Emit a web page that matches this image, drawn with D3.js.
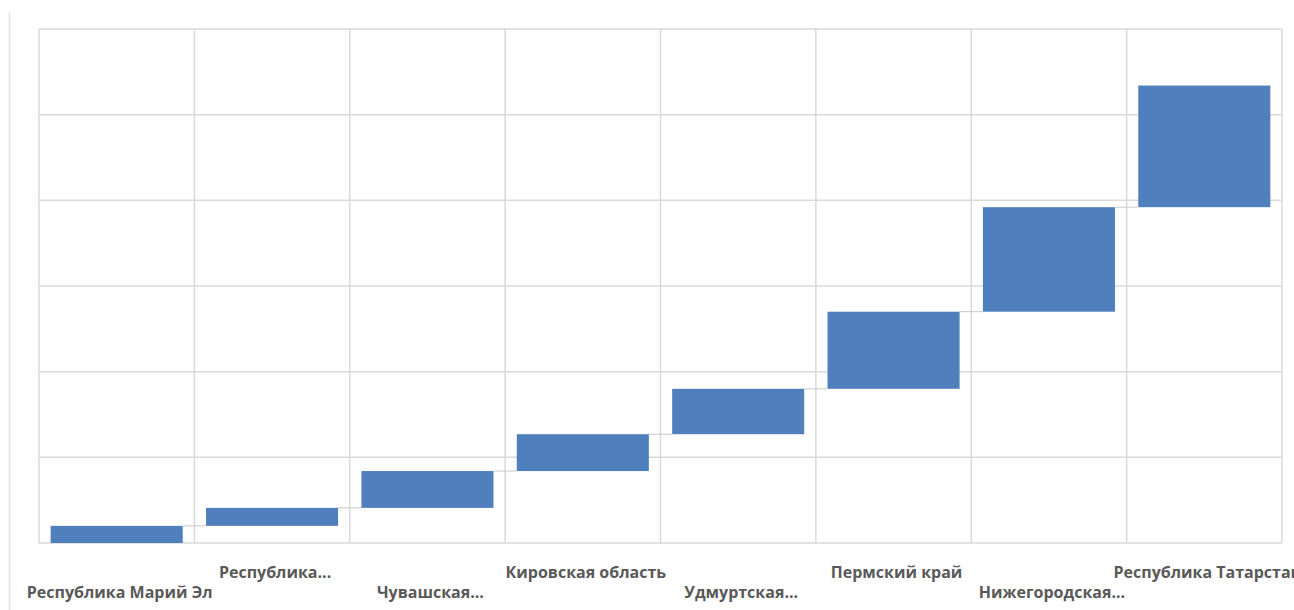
<!DOCTYPE html>
<html>
<head>
<meta charset="utf-8">
<script src="https://cdn.jsdelivr.net/npm/d3@7"></script>
<style>
  html, body { margin: 0; padding: 0; background: #ffffff; }
  svg { display: block; }
</style>
</head>
<body>
<svg id="chart" width="1294" height="610"></svg>
<script>
// Categories (regions)
const categories = [
  "Республика Марий Эл",
  "Республика...",
  "Чувашская...",
  "Кировская область",
  "Удмуртская...",
  "Пермский край",
  "Нижегородская...",
  "Республика Татарстан"
];
// Increment of each step of the waterfall (in gridline units)
const increments = [0.20, 0.21, 0.43, 0.43, 0.53, 0.90, 1.22, 1.42];
// Gridline values
const gridValues = [0, 1, 2, 3, 4, 5, 6];

const svg = d3.select("#chart");
const W = 1294, H = 610;
const plot = { left: 39, right: 1282, top: 29, bottom: 543 };

// cumulative waterfall
let run = 0;
const steps = increments.map((v, i) => {
  const start = run;
  run += v;
  return { name: categories[i], start: start, end: run };
});

const x = d3.scaleBand()
  .domain(categories)
  .range([plot.left, plot.right])
  .paddingInner(0.15)
  .paddingOuter(0.075);

const y = d3.scaleLinear()
  .domain([0, 6])
  .range([plot.bottom, plot.top]);

// left border line of the chart area
svg.append("line")
  .attr("x1", 9.5).attr("x2", 9.5)
  .attr("y1", 12).attr("y2", H)
  .attr("stroke", "#e3e3e3").attr("stroke-width", 1.5);

// horizontal gridlines
svg.append("g")
  .selectAll("line")
  .data(gridValues)
  .join("line")
  .attr("x1", plot.left).attr("x2", plot.right)
  .attr("y1", d => y(d)).attr("y2", d => y(d))
  .attr("stroke", "#d9d9d9").attr("stroke-width", 1.5);

// vertical gridlines at category boundaries
const bounds = d3.range(categories.length + 1).map(i => plot.left + i * (plot.right - plot.left) / categories.length);
svg.append("g")
  .selectAll("line")
  .data(bounds)
  .join("line")
  .attr("x1", d => d).attr("x2", d => d)
  .attr("y1", plot.top).attr("y2", plot.bottom)
  .attr("stroke", "#d9d9d9").attr("stroke-width", 1.5);

// connector lines
svg.append("g")
  .selectAll("line")
  .data(steps.slice(0, -1))
  .join("line")
  .attr("x1", d => x(d.name) + x.bandwidth())
  .attr("x2", (d, i) => x(categories[i + 1]))
  .attr("y1", d => y(d.end)).attr("y2", d => y(d.end))
  .attr("stroke", "#c8c8c8").attr("stroke-width", 1);

// bars
svg.append("g")
  .selectAll("rect")
  .data(steps)
  .join("rect")
  .attr("x", d => x(d.name))
  .attr("width", x.bandwidth())
  .attr("y", d => y(d.end))
  .attr("height", d => y(d.start) - y(d.end))
  .attr("fill", "#4f7fbd");

// category labels, staggered in two rows
svg.append("g")
  .selectAll("text")
  .data(categories)
  .join("text")
  .attr("x", d => x(d) + x.bandwidth() / 2 + 3)
  .attr("y", (d, i) => i % 2 === 0 ? 598 : 578)
  .attr("text-anchor", "middle")
  .attr("font-family", "'Open Sans', 'Noto Sans', sans-serif")
  .attr("font-weight", "bold")
  .attr("font-size", 16)
  .attr("fill", "#595959")
  .text(d => d);
</script>
</body>
</html>
